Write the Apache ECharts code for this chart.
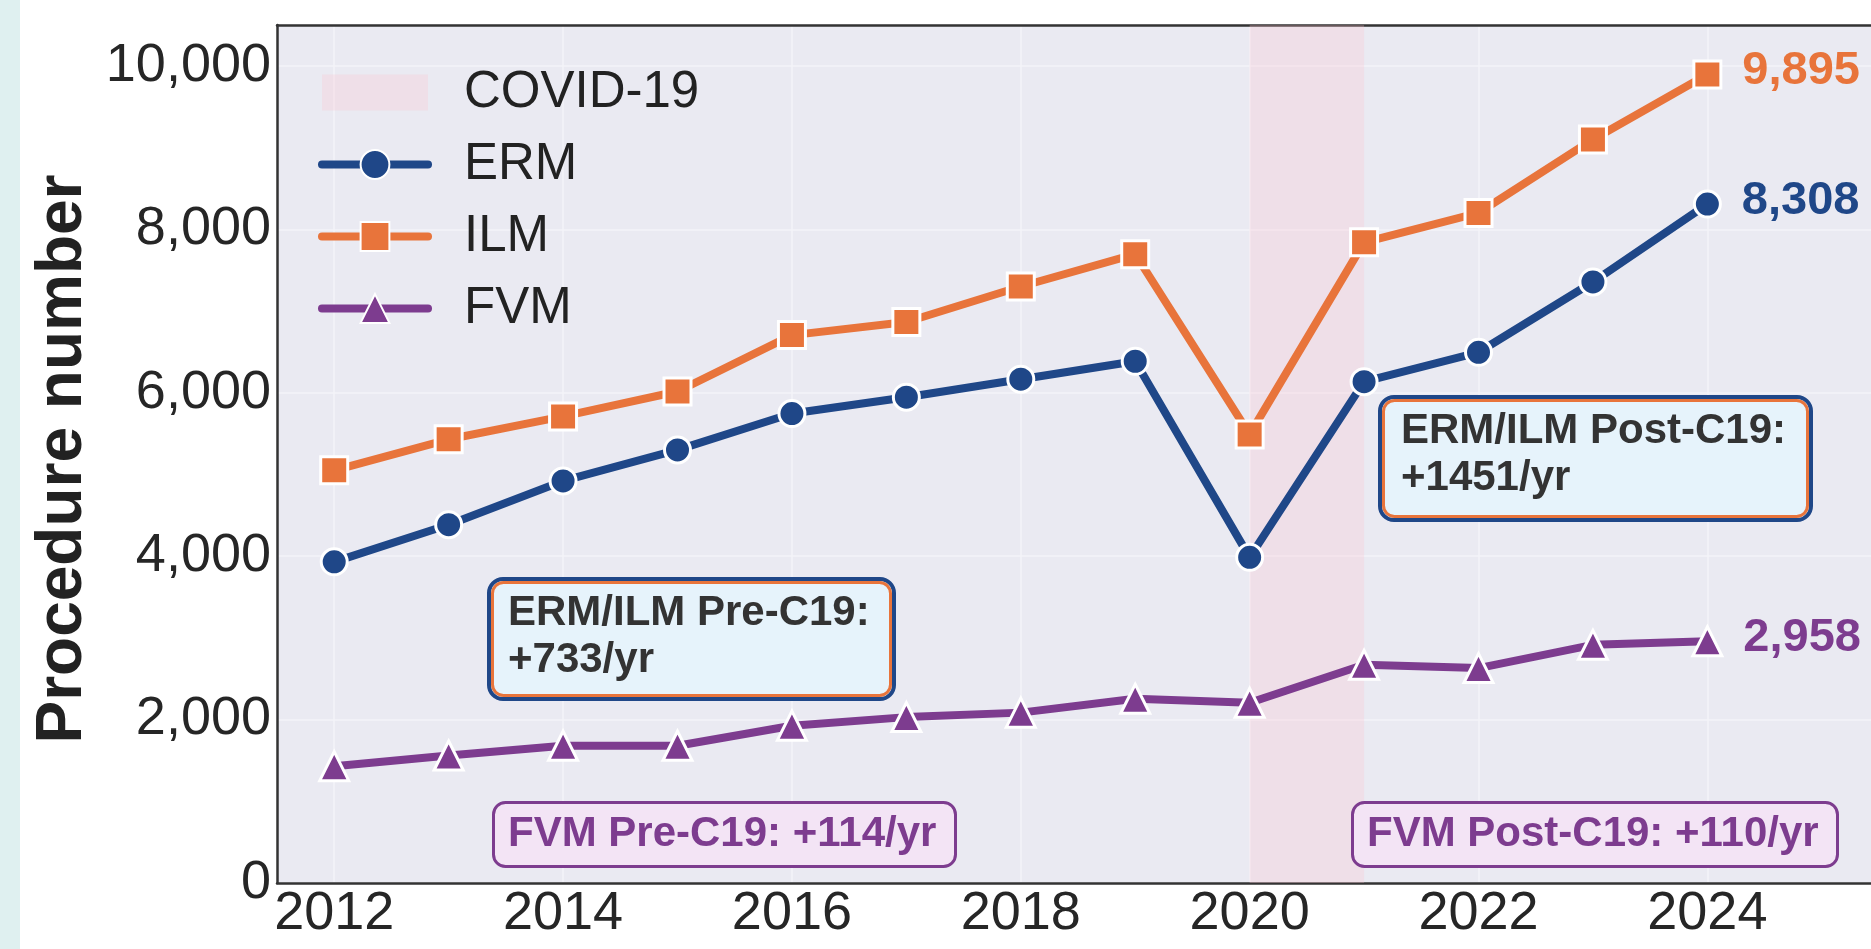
<!DOCTYPE html>
<html>
<head>
<meta charset="utf-8">
<script src="https://cdn.jsdelivr.net/npm/echarts@6/dist/echarts.min.js"></script>
<style>
html,body{margin:0;padding:0;background:#ffffff;}
#chart{width:1871px;height:949px;}
</style>
</head>
<body>
<div id="chart"></div>
<script>
// ---- data ----
const years = [2012, 2013, 2014, 2015, 2016, 2017, 2018, 2019, 2020, 2021, 2022, 2023, 2024];
const ermValues = [3930, 4385, 4920, 5300, 5745, 5945, 6165, 6385, 3985, 6135, 6495, 7355, 8308];
const ilmValues = [5050, 5430, 5710, 6015, 6705, 6865, 7300, 7695, 5490, 7840, 8200, 9100, 9895];
const fvmValues = [1430, 1560, 1680, 1680, 1925, 2030, 2085, 2255, 2205, 2670, 2630, 2915, 2958];
const xTickLabels = [2012, 2014, 2016, 2018, 2020, 2022, 2024];
const covidSpan = [2020, 2021];
const seriesNames = ['ERM', 'ILM', 'FVM'];
const legendNames = ['COVID-19', 'ERM', 'ILM', 'FVM'];
const annotationTexts = [
  'ERM/ILM Pre-C19:\n+733/yr',
  'ERM/ILM Post-C19:\n+1451/yr',
  'FVM Pre-C19: +114/yr',
  'FVM Post-C19: +110/yr'
];

// ---- styles ----
const FONT = '"Liberation Sans", Arial, Helvetica, sans-serif';
const C_ERM = '#1f4788';
const C_ILM = '#e8743b';
const C_FVM = '#7d3c8f';
const C_COVID = 'rgba(255,192,203,0.25)';
const X_MIN = 2011.5, X_MAX = 2025.43;
const fmt = v => Number(v).toLocaleString('en-US');

function buildData(vals, color) {
  const last = vals.length - 1;
  return years.map((y, i) => {
    const item = { value: [y, vals[i]] };
    if (i === last) {
      item.label = {
        show: true, position: 'right', distance: 20, offset: [0, -3],
        formatter: p => fmt(p.value[1]),
        color: color, fontSize: 47, fontWeight: 'bold', fontFamily: FONT
      };
    }
    return item;
  });
}

function lineSeries(name, vals, color, symbol, size) {
  return {
    name: name, type: 'line', data: buildData(vals, color),
    symbol: symbol, symbolSize: size,
    lineStyle: { color: color, width: 8, cap: 'round', join: 'round' },
    itemStyle: { color: color, borderColor: '#ffffff', borderWidth: 3 },
    emphasis: { disabled: true },
    z: 3
  };
}

const chart = echarts.init(document.getElementById('chart'), null, { renderer: 'canvas' });

function dblBox(x, y, w, h, text, tx, ty) {
  return [
    { type: 'rect', shape: { x: x, y: y, width: w, height: h, r: 14 },
      style: { fill: '#e6f3fb', stroke: C_ERM, lineWidth: 4 }, z: 10 },
    { type: 'rect', shape: { x: x + 3.5, y: y + 3.5, width: w - 7, height: h - 7, r: 11 },
      style: { fill: null, stroke: C_ILM, lineWidth: 3 }, z: 11 },
    { type: 'text', x: tx, y: ty, z: 12,
      style: { text: text, font: 'bold 42px ' + FONT, fill: '#333333', lineHeight: 47, verticalAlign: 'top', align: 'left' } }
  ];
}
function fvmBox(x, y, w, h, text, tx, ty) {
  return [
    { type: 'rect', shape: { x: x, y: y, width: w, height: h, r: 12 },
      style: { fill: '#f3e4f5', stroke: C_FVM, lineWidth: 3 }, z: 10 },
    { type: 'text', x: tx, y: ty, z: 12,
      style: { text: text, font: 'bold 42px ' + FONT, fill: C_FVM, verticalAlign: 'middle', align: 'left' } }
  ];
}

const graphics = [
  { type: 'rect', shape: { x: 0, y: 0, width: 20, height: 949 }, style: { fill: '#dff0f0' }, z: 0 }
].concat(
  dblBox(489, 579, 405, 120, annotationTexts[0], 508, 590),
  dblBox(1380, 397, 431, 123, annotationTexts[1], 1401, 408),
  fvmBox(493.5, 802.5, 462, 64, annotationTexts[2], 508, 834),
  fvmBox(1352.5, 802.5, 485, 64, annotationTexts[3], 1367, 834)
);

const frameLine = { show: true, lineStyle: { color: '#333333', width: 2.5 } };

const option = {
  animation: false,
  backgroundColor: '#ffffff',
  textStyle: { fontFamily: FONT },
  grid: {
    left: 277, top: 25, bottom: 66, right: 0,
    show: true, backgroundColor: '#eaeaf2', borderWidth: 0,
    containLabel: false
  },
  legend: {
    left: 318, top: 67, orient: 'vertical', padding: 0,
    itemWidth: 106, itemHeight: 36, itemGap: 21,
    lineStyle: { width: 8, cap: 'round' },
    textStyle: { fontSize: 51, color: '#222222', fontFamily: FONT, padding: [0, 0, 0, 31] },
    data: [
      { name: legendNames[0], icon: 'rect', itemStyle: { color: C_COVID, borderWidth: 0 } },
      { name: legendNames[1] }, { name: legendNames[2] }, { name: legendNames[3] }
    ],
    selectedMode: false
  },
  xAxis: [{
    type: 'value', min: X_MIN, max: X_MAX,
    axisLine: frameLine,
    axisTick: { show: false, customValues: xTickLabels },
    axisLabel: { customValues: xTickLabels, fontSize: 54, color: '#262626', margin: 4, fontFamily: FONT,
      formatter: v => String(v) },
    splitLine: { show: true, lineStyle: { color: '#f3f3f8', width: 1.5 } }
  }, {
    type: 'value', position: 'top', min: X_MIN, max: X_MAX,
    axisLine: frameLine, axisTick: { show: false }, axisLabel: { show: false }, splitLine: { show: false }
  }],
  yAxis: {
    type: 'value', min: 0, max: 10500, interval: 2000,
    name: 'Procedure number', nameLocation: 'middle', nameGap: 181,
    nameTextStyle: { fontSize: 64, fontWeight: 'bold', color: '#222222', fontFamily: FONT, padding: [0, 10, 0, 0] },
    axisLine: frameLine,
    axisTick: { show: false },
    axisLabel: { fontSize: 54, color: '#262626', margin: 6, fontFamily: FONT, showMaxLabel: false,
      formatter: v => fmt(v) },
    splitLine: { show: true, lineStyle: { color: '#f3f3f8', width: 1.5 } }
  },
  series: [
    {
      name: legendNames[0], type: 'line', data: [],
      itemStyle: { color: C_COVID }, lineStyle: { color: C_COVID },
      markArea: { silent: true, itemStyle: { color: C_COVID },
        data: [[{ xAxis: covidSpan[0] }, { xAxis: covidSpan[1] }]] },
      z: 1
    },
    lineSeries(seriesNames[0], ermValues, C_ERM, 'circle', 26),
    lineSeries(seriesNames[1], ilmValues, C_ILM, 'rect', 27),
    lineSeries(seriesNames[2], fvmValues, C_FVM, 'triangle', 29)
  ],
  graphic: graphics
};
chart.setOption(option);
</script>
</body>
</html>
